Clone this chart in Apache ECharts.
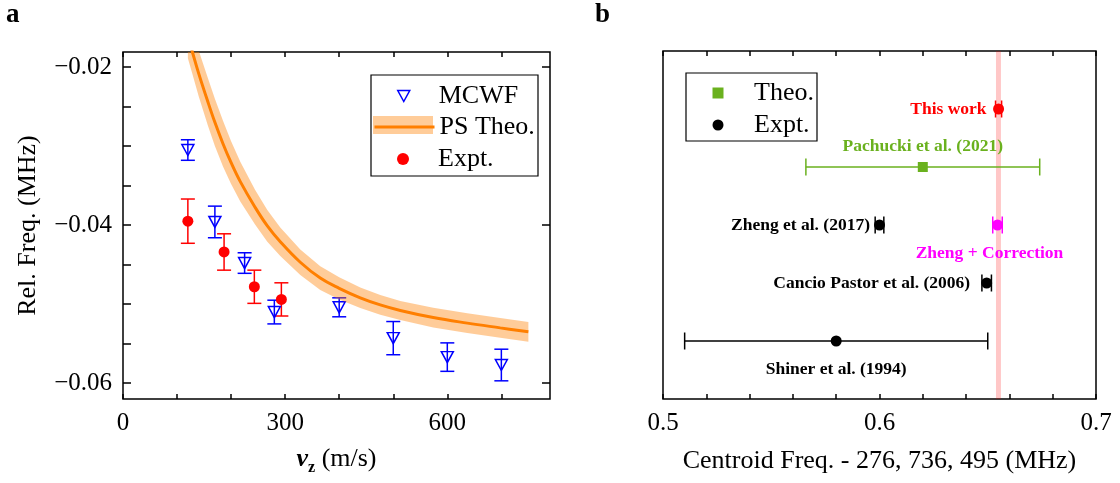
<!DOCTYPE html>
<html><head><meta charset="utf-8">
<script src="https://cdn.jsdelivr.net/npm/echarts@6/dist/echarts.min.js"></script>
<style>html,body{margin:0;padding:0;background:#fff}#c{width:1120px;height:483px}</style>
</head><body><div id="c"></div>
<script>
// ---------- Panel a data ----------
const mcwfV = [120, 170, 225, 280, 400, 500, 600, 700];
const mcwfY = [-0.0305, -0.0396, -0.0448, -0.0510, -0.0504, -0.0543, -0.0567, -0.0577];
const mcwfErr = [0.0013, 0.0020, 0.0013, 0.0015, 0.0012, 0.0021, 0.0018, 0.0020];
const exptV = [120, 187, 243, 293];
const exptY = [-0.0395, -0.0434, -0.0478, -0.0494];
const exptErr = [0.0028, 0.0023, 0.0021, 0.0021];
const psV  = [120, 128, 140, 157, 170, 185, 200, 217, 244, 267, 291, 328, 365, 400, 439, 476, 513, 574, 637, 698, 750];
const psY  = [-0.0161, -0.0180, -0.0208, -0.0244, -0.0270, -0.0297, -0.0321, -0.0345, -0.0377, -0.0401, -0.0421, -0.0447, -0.0467, -0.0480, -0.0492, -0.0501, -0.0508, -0.0517, -0.0524, -0.0530, -0.0535];
const psHi = [-0.0133, -0.0152, -0.0179, -0.0214, -0.0240, -0.0268, -0.0294, -0.0320, -0.0355, -0.0381, -0.0403, -0.0431, -0.0452, -0.0466, -0.0479, -0.04885, -0.0496, -0.05045, -0.05115, -0.05175, -0.05225];
const psLo = [-0.0189, -0.0208, -0.0237, -0.0274, -0.0300, -0.0326, -0.0348, -0.0370, -0.0399, -0.0421, -0.0439, -0.0463, -0.0482, -0.0494, -0.0505, -0.05135, -0.0520, -0.05295, -0.05365, -0.05425, -0.05475];
const xTicksA = [0, 100, 200, 300, 400, 500, 600, 700];
const xLabelsA = [0, 300, 600];
const yTicksA = [-0.06, -0.055, -0.05, -0.045, -0.04, -0.035, -0.03, -0.025, -0.02];
const yLabelsA = [-0.06, -0.04, -0.02];

// ---------- Panel b data ----------
const studies  = ['This work', 'Pachucki et al. (2021)', 'Zheng et al. (2017)', 'Zheng + Correction', 'Cancio Pastor et al. (2006)', 'Shiner et al. (1994)'];
const studyKind = ['this', 'theo', 'expt', 'corr', 'expt', 'expt'];
const studyX   = [0.655, 0.620, 0.600, 0.6545, 0.6495, 0.580];
const studyErr = [0.0014, 0.054, 0.002, 0.0022, 0.0022, 0.070];
const studyRow = [5, 4, 3, 3, 2, 1];
const bandB = [0.6538, 0.6561];
const xTicksB = [0.5, 0.52, 0.54, 0.56, 0.58, 0.6, 0.62, 0.64, 0.66, 0.68, 0.7];
const xLabelsB = [0.5, 0.6, 0.7];

// ---------- styling ----------
const FONT = 'Liberation Serif';
const BLUE = '#0000FF', RED = '#FF0000', ORANGE = '#FF7F00', GREEN = '#6AB11E', MAG = '#FF00FF';
const BANDFILL = 'rgba(255,127,0,0.4)';
const TRI_DOWN = 'path://M0,0L12,0L6,11Z';
const kindColor = {this: RED, theo: GREEN, expt: '#000000', corr: MAG};
const labelLayout = [
  {position: 'left', distance: 6.5},
  {position: 'top', distance: 7},
  {position: 'left', distance: 4},
  {position: 'bottom', distance: 14, offset: [-8, 0]},
  {position: 'left', distance: 11},
  {position: 'bottom', distance: 14}
];

function vErr(color) {
  return function (params, api) {
    const x = api.value(0), y = api.value(1), e = api.value(2);
    const t = api.coord([x, y + e]), b = api.coord([x, y - e]);
    const c = 7, st = {stroke: color, lineWidth: 1.5};
    return {type: 'group', children: [
      {type: 'line', shape: {x1: t[0], y1: t[1], x2: b[0], y2: b[1]}, style: st},
      {type: 'line', shape: {x1: t[0] - c, y1: t[1], x2: t[0] + c, y2: t[1]}, style: st},
      {type: 'line', shape: {x1: b[0] - c, y1: b[1], x2: b[0] + c, y2: b[1]}, style: st}
    ]};
  };
}
function hErr(params, api) {
  const x = api.value(0), y = api.value(1), e = api.value(2);
  const l = api.coord([x - e, y]), r = api.coord([x + e, y]);
  const c = 8.5, st = {stroke: kindColor[studyKind[params.dataIndex]], lineWidth: 1.5};
  return {type: 'group', children: [
    {type: 'line', shape: {x1: l[0], y1: l[1], x2: r[0], y2: r[1]}, style: st},
    {type: 'line', shape: {x1: l[0], y1: l[1] - c, x2: l[0], y2: l[1] + c}, style: st},
    {type: 'line', shape: {x1: r[0], y1: r[1] - c, x2: r[0], y2: r[1] + c}, style: st}
  ]};
}
function studyPoints(kind) {
  const out = [];
  studies.forEach((s, i) => {
    if (studyKind[i] !== kind) return;
    const L = labelLayout[i];
    out.push({
      value: [studyX[i], studyRow[i]],
      label: Object.assign({show: true, formatter: s, color: kindColor[kind], fontWeight: 'bold', fontSize: 17.5, fontFamily: FONT}, L)
    });
  });
  return out;
}
function oneLegend(name, label, left, top, w, h, spacer, extra) {
  return Object.assign({
    orient: 'vertical', left: left, top: top, padding: 0, itemWidth: w, itemHeight: h,
    selectedMode: false, symbolKeepAspect: true,
    formatter: () => '{s| }' + label,
    textStyle: {fontSize: 26, fontFamily: FONT, color: '#000', lineHeight: 22,
                rich: {s: {width: spacer, fontSize: 26, lineHeight: 22}}},
    data: [name]
  }, extra || {});
}
const tickStyle = {color: '#000', width: 1.5};
const labelStyle = {color: '#000', fontSize: 25, fontFamily: FONT};

const option = {
  animation: false,
  textStyle: {fontFamily: FONT},
  graphic: [
    {type: 'text', left: 6, top: 2, style: {text: 'a', font: 'bold 27px "Liberation Serif"', fill: '#000'}},
    {type: 'text', left: 595, top: 2, style: {text: 'b', font: 'bold 27px "Liberation Serif"', fill: '#000'}},
    {type: 'rect', shape: {x: 371, y: 75, width: 167, height: 101}, style: {fill: '#fff', stroke: '#000', lineWidth: 1.2}, z: 10},
    {type: 'rect', shape: {x: 373, y: 116, width: 60, height: 18}, style: {fill: BANDFILL}, z: 11},
    {type: 'rect', shape: {x: 686, y: 73, width: 131, height: 68}, style: {fill: '#fff', stroke: '#000', lineWidth: 1.2}, z: 10}
  ],
  grid: [
    {left: 123, top: 52, right: 570, bottom: 84, show: true, borderColor: '#000', borderWidth: 1.5, backgroundColor: 'transparent'},
    {left: 663, top: 51, right: 24, bottom: 84, show: true, borderColor: '#000', borderWidth: 1.5, backgroundColor: 'transparent'}
  ],
  xAxis: [
    {type: 'value', gridIndex: 0, min: 0, max: 790, position: 'bottom',
     axisLine: {show: false, onZero: false}, splitLine: {show: false},
     axisTick: {inside: true, length: 5, customValues: xTicksA, lineStyle: tickStyle},
     axisLabel: Object.assign({customValues: xLabelsA, margin: 12}, labelStyle),
     name: '{v|v}{z|z}{n| (m/s)}', nameLocation: 'middle', nameGap: 47,
     nameTextStyle: {rich: {
       v: {fontStyle: 'italic', fontWeight: 'bold', fontSize: 26, fontFamily: FONT, color: '#000'},
       z: {fontWeight: 'bold', fontSize: 16, fontFamily: FONT, color: '#000', verticalAlign: 'bottom', padding: [0, 0, -4, 0]},
       n: {fontSize: 26, fontFamily: FONT, color: '#000'}
     }}},
    {type: 'value', gridIndex: 0, min: 0, max: 790, position: 'top',
     axisLine: {show: false, onZero: false}, splitLine: {show: false},
     axisTick: {inside: true, length: 5, customValues: xTicksA, lineStyle: tickStyle},
     axisLabel: {show: false}},
    {type: 'value', gridIndex: 1, min: 0.5, max: 0.7, position: 'bottom',
     axisLine: {show: false, onZero: false}, splitLine: {show: false},
     axisTick: {inside: true, length: 5, customValues: xTicksB, lineStyle: tickStyle},
     axisLabel: Object.assign({customValues: xLabelsB, margin: 12, formatter: v => v.toFixed(1)}, labelStyle),
     name: 'Centroid Freq. - 276, 736, 495 (MHz)', nameLocation: 'middle', nameGap: 49,
     nameTextStyle: {fontSize: 26, fontFamily: FONT, color: '#000'}},
    {type: 'value', gridIndex: 1, min: 0.5, max: 0.7, position: 'top',
     axisLine: {show: false, onZero: false}, splitLine: {show: false},
     axisTick: {inside: true, length: 5, customValues: xTicksB, lineStyle: tickStyle},
     axisLabel: {show: false}}
  ],
  yAxis: [
    {type: 'value', gridIndex: 0, min: -0.062, max: -0.0181, position: 'left',
     axisLine: {show: false, onZero: false}, splitLine: {show: false},
     axisTick: {inside: true, length: 8, customValues: yTicksA, lineStyle: tickStyle},
     axisLabel: Object.assign({customValues: yLabelsA, margin: 11, formatter: v => '\u2212' + Math.abs(v).toFixed(2)}, labelStyle),
     name: 'Rel. Freq. (MHz)', nameLocation: 'middle', nameGap: 82,
     nameTextStyle: {fontSize: 26, fontFamily: FONT, color: '#000'}},
    {type: 'value', gridIndex: 0, min: -0.062, max: -0.0181, position: 'right',
     axisLine: {show: false, onZero: false}, splitLine: {show: false},
     axisTick: {inside: true, length: 8, customValues: yLabelsA, lineStyle: tickStyle},
     axisLabel: {show: false}},
    {type: 'value', gridIndex: 1, min: 0, max: 6, show: false}
  ],
  legend: [
    oneLegend('MCWF', 'MCWF', 397, 83, 12, 12, 24, {z: 20,
      data: [{name: 'MCWF', icon: TRI_DOWN, itemStyle: {color: 'rgba(0,0,0,0)', borderColor: BLUE, borderWidth: 1.5}}]}),
    oneLegend('PS Theo.', 'PS Theo.', 373, 114, 60, 12, 0.01, {z: 20, formatter: 'PS Theo.', textStyle: {fontSize: 26, fontFamily: FONT, color: '#000', lineHeight: 22},
      data: [{name: 'PS Theo.', itemStyle: {opacity: 0}, lineStyle: {color: ORANGE, width: 3}}]}),
    oneLegend('Expt.', 'Expt.', 397, 146, 12, 12, 24, {z: 20}),
    oneLegend('Theo.', 'Theo.', 712.5, 80, 11, 11, 25.5, {z: 20}),
    oneLegend('Expt.b', 'Expt.', 712.5, 112, 11, 11, 25.5, {z: 20})
  ],
  series: [
    // ----- panel a -----
    {type: 'custom', name: 'mcwfErr', xAxisIndex: 0, yAxisIndex: 0, z: 2,
     data: mcwfV.map((v, i) => [v, mcwfY[i], mcwfErr[i]]), encode: {x: 0, y: 1},
     renderItem: vErr(BLUE)},
    {type: 'scatter', name: 'MCWF', xAxisIndex: 0, yAxisIndex: 0, z: 3,
     symbol: TRI_DOWN, symbolSize: [12, 11],
     itemStyle: {color: 'rgba(0,0,0,0)', borderColor: BLUE, borderWidth: 1.5, opacity: 1},
     data: mcwfV.map((v, i) => [v, mcwfY[i]])},
    {type: 'custom', name: 'exptErr', xAxisIndex: 0, yAxisIndex: 0, z: 2,
     data: exptV.map((v, i) => [v, exptY[i], exptErr[i]]), encode: {x: 0, y: 1},
     renderItem: vErr(RED)},
    {type: 'scatter', name: 'Expt.', xAxisIndex: 0, yAxisIndex: 0, z: 3,
     symbol: 'circle', symbolSize: 11, itemStyle: {color: RED, opacity: 1},
     data: exptV.map((v, i) => [v, exptY[i]])},
    {type: 'custom', name: 'psBand', xAxisIndex: 0, yAxisIndex: 0, z: 4, clip: true,
     data: psV.map((v, i) => [v, psY[i]]), encode: {x: 0, y: 1},
     renderItem: function (params, api) {
       if (params.dataIndex !== 0) return;
       const pts = [];
       for (let i = 0; i < psV.length; i++) pts.push(api.coord([psV[i], psHi[i]]));
       for (let i = psV.length - 1; i >= 0; i--) pts.push(api.coord([psV[i], psLo[i]]));
       return {type: 'polygon', shape: {points: pts}, style: {fill: BANDFILL}};
     }},
    {type: 'line', name: 'PS Theo.', xAxisIndex: 0, yAxisIndex: 0, z: 5,
     symbol: 'none', smooth: 0.4, clip: true,
     lineStyle: {color: ORANGE, width: 3}, itemStyle: {color: ORANGE},
     data: psV.map((v, i) => [v, psY[i]])},
    // ----- panel b -----
    {type: 'custom', name: 'band', xAxisIndex: 2, yAxisIndex: 2, z: 1,
     data: [[bandB[0], bandB[1]]],
     renderItem: function (params, api) {
       const a = api.coord([api.value(0), 6]), b = api.coord([api.value(1), 0]);
       return {type: 'rect', shape: {x: a[0], y: a[1], width: b[0] - a[0], height: b[1] - a[1]}, style: {fill: 'rgba(255,0,0,0.22)'}};
     }},
    {type: 'custom', name: 'studyErr', xAxisIndex: 2, yAxisIndex: 2, z: 2,
     data: studies.map((s, i) => [studyX[i], studyRow[i], studyErr[i]]), encode: {x: 0, y: 1},
     renderItem: hErr},
    {type: 'scatter', name: 'Theo.', xAxisIndex: 2, yAxisIndex: 2, z: 3,
     symbol: 'rect', symbolSize: 10, itemStyle: {color: GREEN, opacity: 1}, data: studyPoints('theo')},
    {type: 'scatter', name: 'Expt.b', xAxisIndex: 2, yAxisIndex: 2, z: 3,
     symbol: 'circle', symbolSize: 11, itemStyle: {color: '#000', opacity: 1}, data: studyPoints('expt')},
    {type: 'scatter', name: 'This work', xAxisIndex: 2, yAxisIndex: 2, z: 3,
     symbol: 'circle', symbolSize: 11, itemStyle: {color: RED, opacity: 1}, data: studyPoints('this')},
    {type: 'scatter', name: 'Zheng + Correction', xAxisIndex: 2, yAxisIndex: 2, z: 3,
     symbol: 'circle', symbolSize: 11, itemStyle: {color: MAG, opacity: 1}, data: studyPoints('corr')}
  ]
};
const chart = echarts.init(document.getElementById('c'), null, {renderer: 'canvas'});
chart.setOption(option);
</script>
</body></html>
